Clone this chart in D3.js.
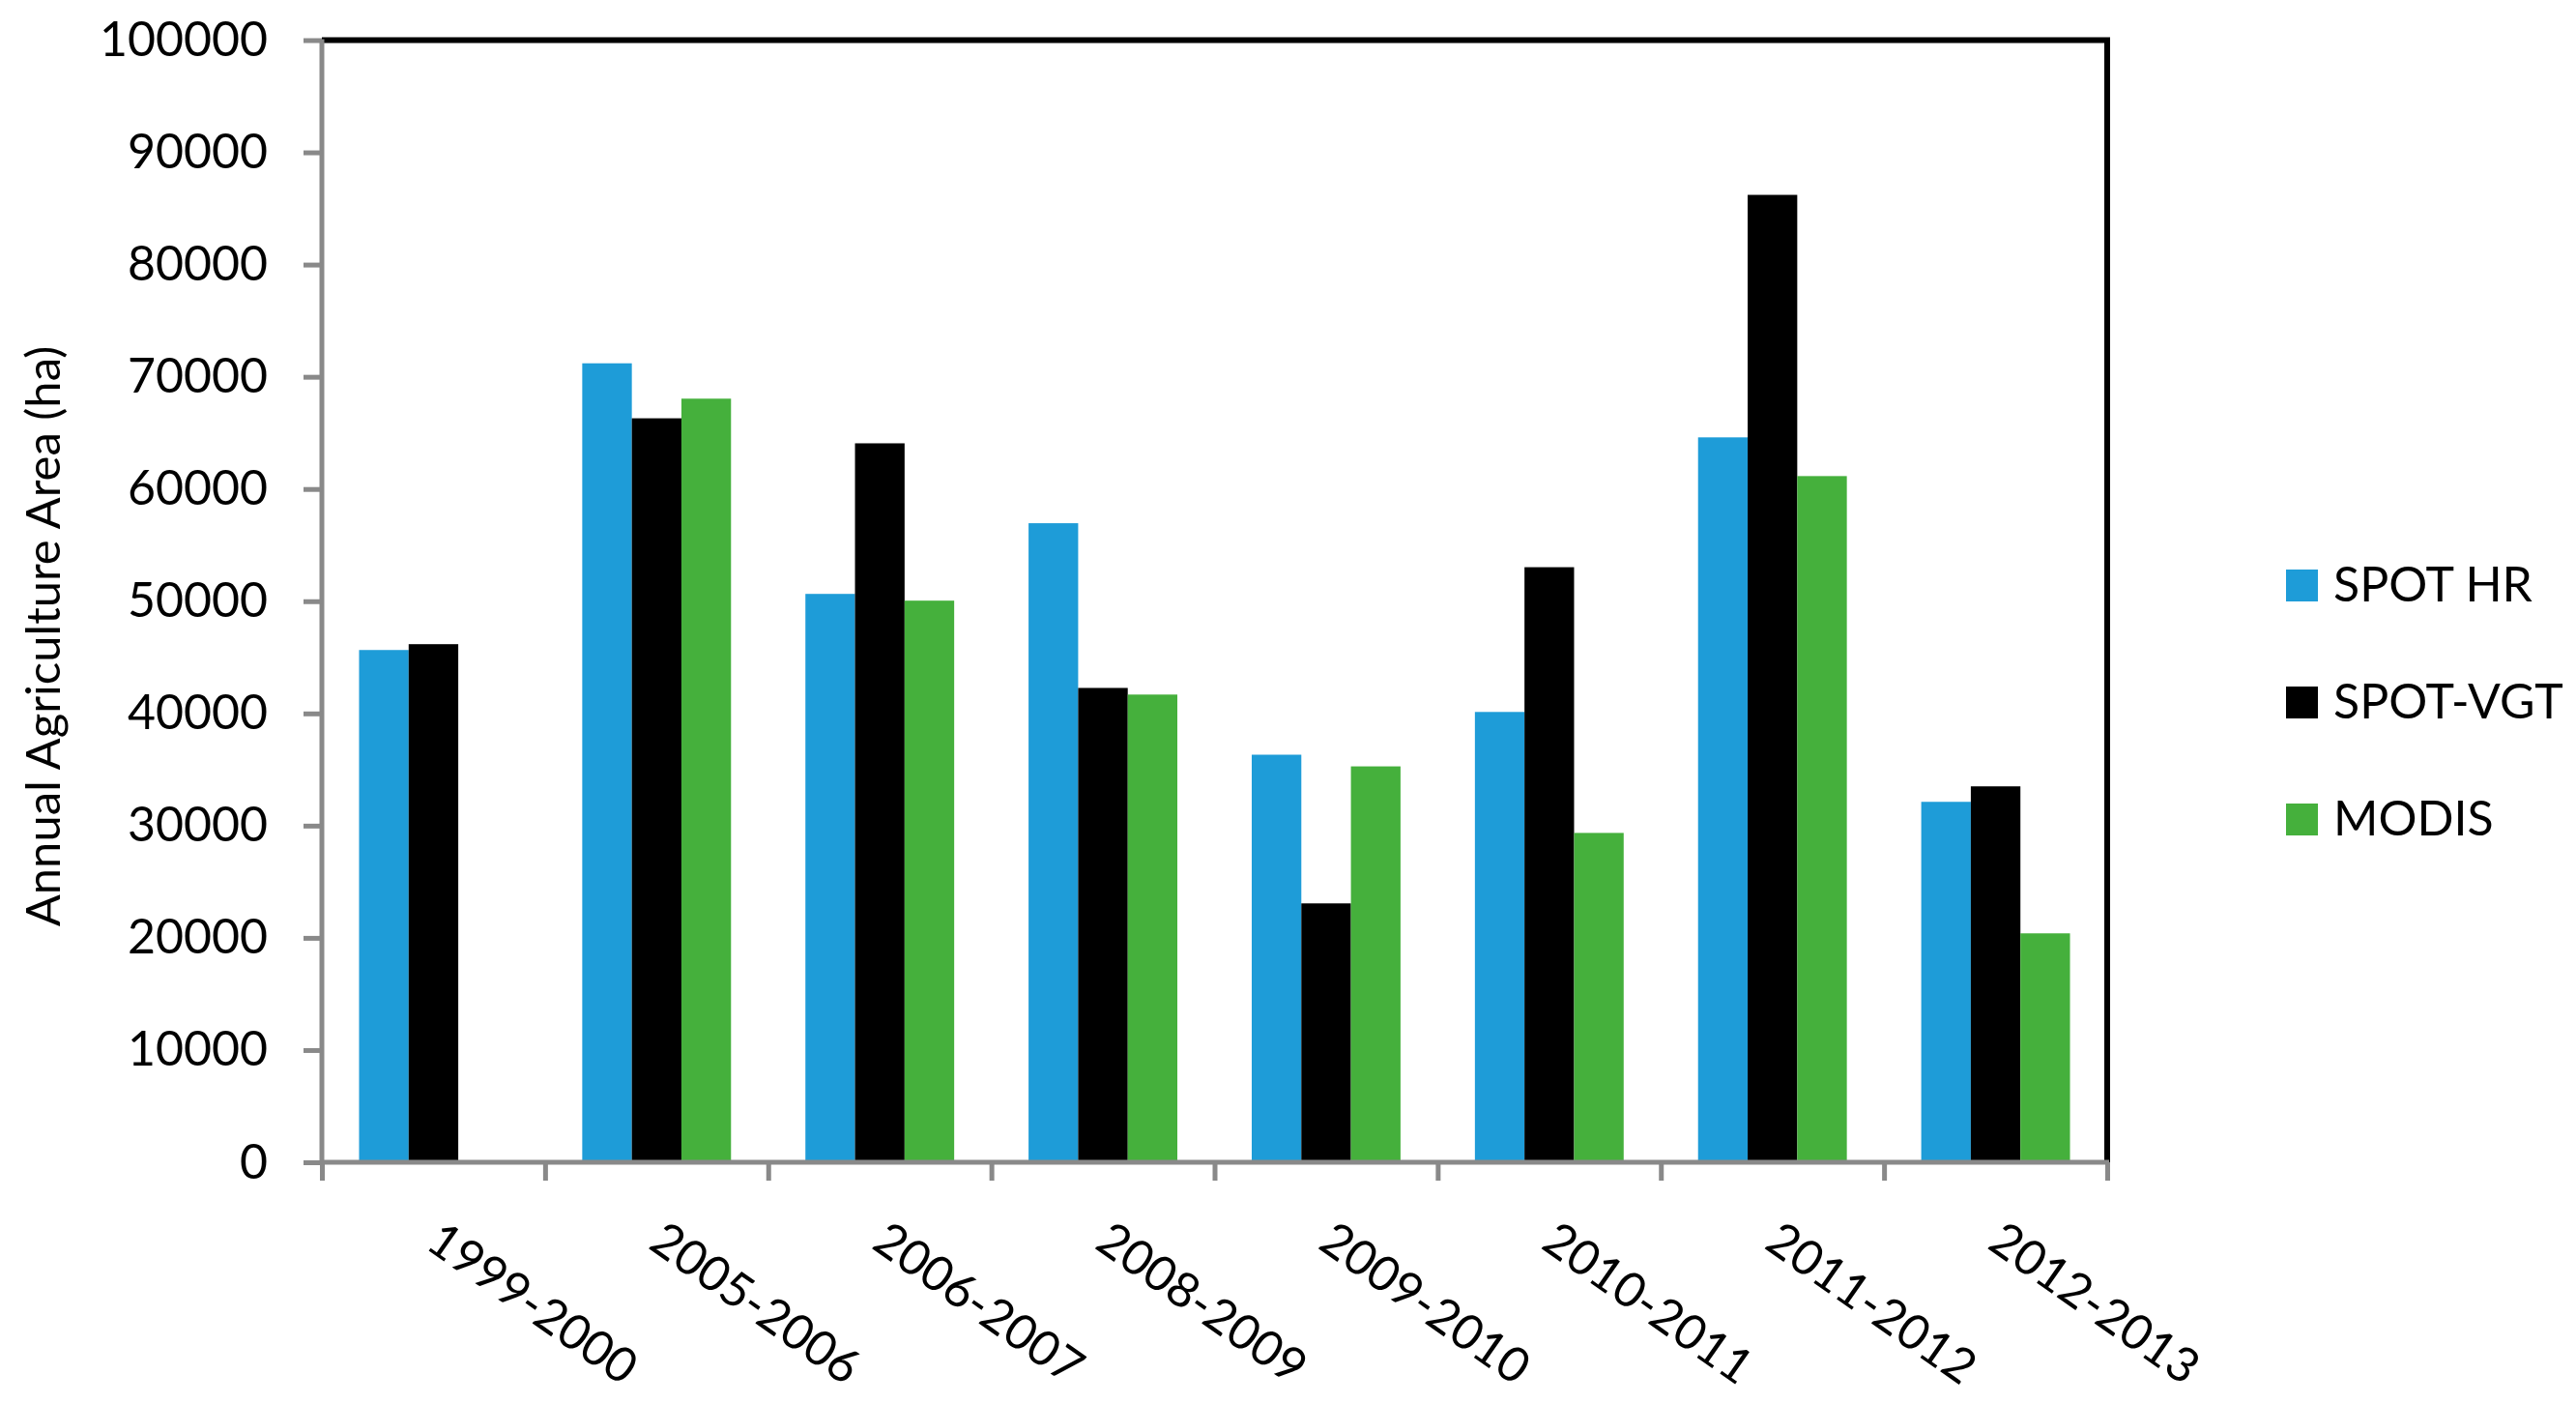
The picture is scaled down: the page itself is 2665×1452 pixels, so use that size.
<!DOCTYPE html>
<html>
<head>
<meta charset="utf-8">
<script src="https://cdn.jsdelivr.net/npm/d3@7/dist/d3.min.js"></script>
<style>
  html, body { margin: 0; padding: 0; background: #fff; }
  svg { display: block; }
  text { font-family: Lato, "Open Sans", sans-serif; fill: #000; }
</style>
</head>
<body>
<svg id="chart" width="2665" height="1452"></svg>
<script>
const categories = ["1999-2000","2005-2006","2006-2007","2008-2009","2009-2010","2010-2011","2011-2012","2012-2013"];
const seriesNames = ["SPOT HR","SPOT-VGT","MODIS"];
const spotHR  = [45650, 71200, 50650, 56950, 36320, 40130, 64600, 32120];
const spotVGT = [46170, 66300, 64070, 42270, 23070, 53030, 86210, 33500];
const modis   = [null,  68050, 50050, 41680, 35280, 29350, 61150, 20400];
const seriesColors = ["#1E9CD8", "#000000", "#45B03C"];
const yTicks = [0,10000,20000,30000,40000,50000,60000,70000,80000,90000,100000];
const yTitle = "Annual Agriculture Area (ha)";

const seriesValues = [spotHR, spotVGT, modis];

const svg = d3.select("#chart");
const X0 = 333, X1 = 2180, Y0 = 1202, Y1 = 41.5;
const axisGray = "#898989";

const x = d3.scaleBand().domain(categories).range([X0, X1]).paddingInner(0).paddingOuter(0);
const xs = d3.scaleBand().domain(seriesNames).range([0, x.bandwidth()]).paddingInner(0).paddingOuter(0.75);
const y = d3.scaleLinear().domain([0, 100000]).range([Y0, Y1]);
const xb = d3.scaleLinear().domain([0, categories.length]).range([X0, X1]);

// Plot border (top & right black)
svg.append("line").attr("x1", X0).attr("x2", X1 + 3).attr("y1", Y1).attr("y2", Y1)
  .attr("stroke", "#000").attr("stroke-width", 6);
svg.append("line").attr("x1", X1).attr("x2", X1).attr("y1", Y1).attr("y2", Y0)
  .attr("stroke", "#000").attr("stroke-width", 6);

// Bars
const rows = [];
categories.forEach((c, i) => {
  seriesNames.forEach((s, j) => {
    const v = seriesValues[j][i];
    if (v != null) rows.push({c, s, v, color: seriesColors[j]});
  });
});
svg.append("g").selectAll("rect").data(rows).join("rect")
  .attr("x", d => x(d.c) + xs(d.s))
  .attr("width", xs.bandwidth())
  .attr("y", d => y(d.v))
  .attr("height", d => Y0 - y(d.v))
  .attr("fill", d => d.color);

// Y axis
const yAxis = svg.append("g").attr("transform", `translate(${X0},0)`)
  .call(d3.axisLeft(y).tickValues(yTicks).tickFormat(d3.format("d")).tickSize(19).tickPadding(37));
yAxis.select(".domain").attr("stroke", axisGray).attr("stroke-width", 5)
  .attr("d", `M0,${Y1 - 1}V${Y0 + 2}`);
yAxis.selectAll(".tick line").attr("stroke", axisGray).attr("stroke-width", 5);
yAxis.selectAll(".tick text").style("font-family", "Lato").style("font-size", "50px").attr("fill", "#000");

// X axis (ticks at category boundaries)
const xAxis = svg.append("g").attr("transform", `translate(0,${Y0})`)
  .call(d3.axisBottom(xb).ticks(categories.length).tickValues(d3.range(categories.length + 1)).tickFormat("").tickSize(19));
xAxis.select(".domain").attr("stroke", axisGray).attr("stroke-width", 5)
  .attr("d", `M${X0 - 2},0H${X1 + 2}`);
xAxis.selectAll(".tick line").attr("stroke", axisGray).attr("stroke-width", 5);

// X labels rotated
svg.append("g").selectAll("text").data(categories).join("text")
  .attr("transform", d => `translate(${x(d) + x.bandwidth() / 2 - 10},${Y0 + 88}) rotate(35)`)
  .attr("text-anchor", "start")
  .style("font-size", "50px")
  .text(d => d);

// Y title
svg.append("text")
  .attr("transform", `translate(62,658) rotate(-90)`)
  .attr("text-anchor", "middle")
  .style("font-size", "49px")
  .text(yTitle);

// Legend
const legend = svg.append("g");
seriesNames.forEach((s, j) => {
  const by = 622 + j * 121;
  legend.append("rect").attr("x", 2365).attr("y", by - 33).attr("width", 33).attr("height", 33)
    .attr("fill", seriesColors[j]);
  legend.append("text").attr("x", 2414).attr("y", by).style("font-size", "50px").text(s);
});
</script>
</body>
</html>
